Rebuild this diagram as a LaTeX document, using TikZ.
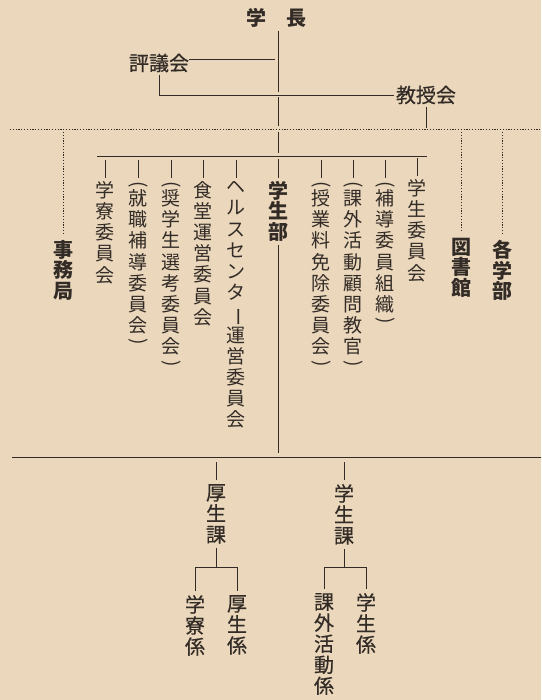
\documentclass[tikz,border=0pt]{standalone}
\usepackage{fontspec}
\usepackage{graphicx}
\usepackage{tikz}
\usetikzlibrary{positioning}

\newfontfamily\cjk{Noto Sans CJK JP}
\newfontfamily\cjkmid[FakeBold=0.6]{Noto Sans CJK JP}
\definecolor{paper}{RGB}{234,215,188}
\definecolor{ink}{RGB}{50,43,38}
\newcommand{\po}{\rotatebox[origin=c]{-90}{(}}
\newcommand{\pc}{\rotatebox[origin=c]{-90}{)}}
\newcommand{\cho}{\rotatebox[origin=c]{-90}{ー}}

\tikzset{
  kan/.style={font=\cjkmid\fontsize{20pt}{21pt}\selectfont, text=ink, inner sep=0pt, align=center},
  kanbold/.style={font=\cjk\bfseries\fontsize{20pt}{20.5pt}\selectfont, text=ink, inner sep=0pt, align=center},
  iin/.style={font=\cjk\fontsize{19pt}{21.2pt}\selectfont, text=ink, inner sep=0pt, align=center, anchor=north},
  conn/.style={draw=ink, line width=0.9pt},
  dotline/.style={draw=ink, line width=0.7pt, dash pattern=on 1.2pt off 1.6pt},
}

\begin{document}
\begin{tikzpicture}[x=1pt, y=-1pt]
\fill[paper] (0,0) rectangle (541,700);
\useasboundingbox (0,0) rectangle (541,700);

% levels of the horizontal lines
\coordinate (spine) at (278,0);
\coordinate (dotL) at (10,129);
\coordinate (dotR) at (541,129);
\coordinate (barL) at (97,156);
\coordinate (barR) at (427,156);
\coordinate (baseL) at (12,457);
\coordinate (baseR) at (541,457);
\coordinate (sub) at (0,567);

% top
\node (gakucho) [kanbold] at (276,18) {学　長};
\node (hyogi) [kan] at (159,63) {評議会};
\node (kyoju) [kan] at (426,95) {教授会};

% middle
\node (jimu) [kanbold, anchor=north] at (63,240) {事\\務\\局};
\node (tosho) [kanbold, anchor=north] at (461,238) {図\\書\\館};
\node (kakubu) [kanbold, anchor=north] at (502,240) {各\\学\\部};
\node (gakuseibu) [kanbold, anchor=north] at (278,181) {学\\生\\部};

% committees
\node (gakuryo) [iin] at (105,181) {学\\寮\\委\\員\\会};
\node (shushoku) [iin] at (138,181) {\po\\[-6pt]就\\職\\補\\導\\委\\員\\会\\[-6pt]\pc};
\node (shogaku) [iin] at (171,181) {\po\\[-6pt]奨\\学\\生\\選\\考\\委\\員\\会\\[-6pt]\pc};
\node (shokudo) [iin] at (203,181) {食\\堂\\運\\営\\委\\員\\会};
\node (health) [iin] at (236,181) {ヘ\\ル\\ス\\セ\\ン\\タ\\\cho\\運\\営\\委\\員\\会};
\node (jugyoryo) [iin] at (321,181) {\po\\[-6pt]授\\業\\料\\免\\除\\委\\員\\会\\[-6pt]\pc};
\node (komon) [iin] at (353,181) {\po\\[-6pt]課\\外\\活\\動\\顧\\問\\教\\官\\[-6pt]\pc};
\node (hodo) [iin] at (385,181) {\po\\[-6pt]補\\導\\委\\員\\組\\織\\[-6pt]\pc};
\node (gakuseiiin) [iin] at (417,179) {学\\生\\委\\員\\会};

% bottom
\node (kosei) [kan, anchor=north] at (216,484) {厚\\生\\課};
\node (gakuseika) [kan, anchor=north] at (344,484) {学\\生\\課};
\node (ryokakari) [kan, anchor=north] at (195,595) {学\\寮\\係};
\node (koseikakari) [kan, anchor=north] at (237,595) {厚\\生\\係};
\node (kagai) [kan, anchor=north] at (324,593) {課\\外\\活\\動\\係};
\node (gakuseikakari) [kan, anchor=north] at (366,593) {学\\生\\係};

% spine
\draw[conn, shorten <=3pt, shorten >=3pt] (gakucho.south -| spine) -- (spine |- kyoju);
\draw[conn, shorten <=2.5pt, shorten >=2.5pt] (spine |- kyoju) -- (spine |- dotL);
\draw[conn, shorten <=3pt, shorten >=3pt] (spine |- dotL) -- (spine |- barL);
\draw[conn, shorten <=3pt, shorten >=3pt] (spine |- barL) -- (gakuseibu.north);
\draw[conn, shorten <=3pt, shorten >=4pt] (gakuseibu.south) -- (spine |- baseL);

% councils
\draw[conn, shorten >=3pt] ([yshift=4pt]hyogi.east) -- ([yshift=4pt]hyogi.east -| spine);
\draw[conn, shorten <=3pt] (hyogi.south) -- (hyogi.south |- kyoju.west) -- ([xshift=-2pt]kyoju.west);
\draw[conn, shorten <=3pt, shorten >=1pt] (kyoju.south) -- (kyoju.south |- dotL);

% dotted
\draw[dotline] (dotL) -- (dotR);
\draw[dotline, shorten <=3pt, shorten >=6pt] (jimu.north |- dotL) -- (jimu.north);
\draw[dotline, shorten <=3pt, shorten >=6pt] (tosho.north |- dotL) -- (tosho.north);
\draw[dotline, shorten <=3pt, shorten >=6pt] (kakubu.north |- dotL) -- (kakubu.north);

% committee bar
\draw[conn] (barL) -- (barR);
\draw[conn, shorten <=4pt, shorten >=3pt] (gakuryo.north |- barL) -- (gakuryo.north);
\draw[conn, shorten <=4pt, shorten >=3pt] (shushoku.north |- barL) -- (shushoku.north);
\draw[conn, shorten <=4pt, shorten >=3pt] (shogaku.north |- barL) -- (shogaku.north);
\draw[conn, shorten <=4pt, shorten >=3pt] (shokudo.north |- barL) -- (shokudo.north);
\draw[conn, shorten <=4pt, shorten >=3pt] (health.north |- barL) -- (health.north);
\draw[conn, shorten <=4pt, shorten >=3pt] (jugyoryo.north |- barL) -- (jugyoryo.north);
\draw[conn, shorten <=4pt, shorten >=3pt] (komon.north |- barL) -- (komon.north);
\draw[conn, shorten <=4pt, shorten >=3pt] (hodo.north |- barL) -- (hodo.north);
\draw[conn, shorten <=2pt, shorten >=3pt] (gakuseiiin.north |- barL) -- (gakuseiiin.north);

% base line and sections
\draw[conn] (baseL) -- (baseR);
\draw[conn, shorten <=5pt, shorten >=4pt] (kosei.north |- baseL) -- (kosei.north);
\draw[conn, shorten <=5pt, shorten >=4pt] (gakuseika.north |- baseL) -- (gakuseika.north);
\draw[conn, shorten <=4pt] (kosei.south) -- (kosei.south |- sub);
\draw[conn, shorten <=4pt] (gakuseika.south) -- (gakuseika.south |- sub);
\draw[conn, shorten <=4pt, shorten >=4pt] (ryokakari.north) -- (ryokakari.north |- sub) -- (koseikakari.north |- sub) -- (koseikakari.north);
\draw[conn, shorten <=4pt, shorten >=4pt] (kagai.north) -- (kagai.north |- sub) -- (gakuseikakari.north |- sub) -- (gakuseikakari.north);
\end{tikzpicture}
\end{document}
